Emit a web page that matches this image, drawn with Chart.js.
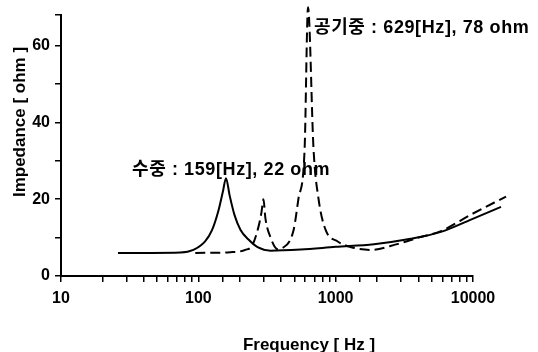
<!DOCTYPE html>
<html>
<head>
<meta charset="utf-8">
<script src="https://cdn.jsdelivr.net/npm/chart.js@4.4.0/dist/chart.umd.min.js"></script>
<style>
    body { margin: 0; background: #fff; }
    #box { width: 538px; height: 352px; }
</style>
</head>
<body>
<div id="box"><canvas id="myChart" width="538" height="352"></canvas></div>
<script>
// 수중 (solid line)
const waterFreq = [26, 45, 74, 92, 112, 126, 140, 151, 159, 169, 183, 203, 232, 270, 336, 556, 1000, 1900, 3520, 5840, 9660, 16000];
const waterOhm = [6.0, 6.0, 6.1, 6.8, 9, 12, 17, 22, 25.5, 21, 16, 12, 9.5, 7.5, 6.6, 6.9, 7.6, 8.3, 9.7, 11.5, 14.7, 18];

// 공기중 (dashed line)
const airFreq = [95, 171, 220, 247, 274, 288, 298, 308, 336, 378, 410, 494, 535, 594, 629, 690, 751, 845, 1035, 1300, 1800, 2800, 4000, 5840, 9660, 17400];
const airOhm = [6.0, 6.2, 6.8, 8, 12.8, 16.5, 20, 15, 10, 7, 7.3, 12, 20, 33, 70, 33, 20, 12, 9, 7.5, 6.8, 8.3, 10, 11.7, 16, 20.7];

const xLabels = [10, 100, 1000, 10000];
const yTicks = [0, 10, 20, 30, 40, 50, 60, 68];
const yLabels = [0, 20, 40, 60];

const xTitle = 'Frequency [ Hz ]';
const yTitle = 'Impedance [ ohm ]';
const waterNote = '수중 : 159[Hz], 22 ohm';
const airNote = '공기중 : 629[Hz], 78 ohm';

const font = '"Liberation Sans", "Noto Sans CJK KR", sans-serif';

function pts(fs, vs) {
    return fs.map((f, i) => ({ x: f, y: vs[i] }));
}

const textPlugin = {
    id: 'texts',
    afterDraw(chart) {
        const c = chart.ctx;
        const a = chart.chartArea;
        const xs = chart.scales.x;
        c.save();
        c.fillStyle = '#000';
        c.font = 'bold 17px ' + font;
        c.textBaseline = 'middle';

        c.textAlign = 'center';
        c.fillText(xTitle, (a.left + a.right) / 2 + 42, 345);

        c.save();
        c.translate(20, 122);
        c.rotate(-Math.PI / 2);
        c.fillText(yTitle, 0, 0);
        c.restore();

        // notes next to the peaks
        c.font = 'bold 18px ' + font;
        c.letterSpacing = '0.6px';
        c.textAlign = 'left';
        c.fillText(airNote, xs.getPixelForValue(629) + 6, 28);
        c.fillText(waterNote, 132, 170);
        c.restore();
    }
};

const ctx = document.getElementById('myChart').getContext('2d');
const myChart = new Chart(ctx, {
    type: 'line',
    data: {
        datasets: [{
            label: '수중',
            data: pts(waterFreq, waterOhm),
            borderColor: '#000',
            borderWidth: 2,
            pointRadius: 0,
            cubicInterpolationMode: 'monotone',
            clip: false
        }, {
            label: '공기중',
            data: pts(airFreq, airOhm),
            borderColor: '#000',
            borderWidth: 2,
            borderDash: [10, 5],
            pointRadius: 0,
            cubicInterpolationMode: 'monotone',
            clip: false
        }]
    },
    options: {
        responsive: false,
        animation: false,
        layout: {
            padding: { top: 15, right: 65, left: 0, bottom: 0 }
        },
        plugins: {
            legend: { display: false },
            tooltip: { enabled: false }
        },
        scales: {
            x: {
                type: 'logarithmic',
                afterDataLimits(s) {
                    s.min = 10;
                    s.max = 10000;
                },
                afterFit(s) {
                    s.height = 76;
                },
                border: { display: true, color: '#000', width: 2 },
                grid: {
                    drawOnChartArea: false,
                    color: '#000',
                    lineWidth: 1.5,
                    tickLength: 6
                },
                ticks: {
                    autoSkip: false,
                    maxRotation: 0,
                    padding: 7,
                    color: '#000',
                    font: { family: font, size: 16, weight: 'bold' },
                    callback: v => xLabels.includes(v) ? String(v) : ''
                }
            },
            y: {
                min: 0,
                max: 68,
                afterBuildTicks(s) {
                    s.ticks = yTicks.map(v => ({ value: v }));
                },
                afterFit(s) {
                    s.width = 61;
                },
                border: { display: true, color: '#000', width: 2 },
                grid: {
                    drawOnChartArea: false,
                    color: '#000',
                    lineWidth: 1.5,
                    tickLength: 6
                },
                ticks: {
                    padding: 5,
                    color: '#000',
                    font: { family: font, size: 16, weight: 'bold' },
                    callback: v => yLabels.includes(v) ? String(v) : ''
                }
            }
        }
    },
    plugins: [textPlugin]
});
</script>
</body>
</html>
